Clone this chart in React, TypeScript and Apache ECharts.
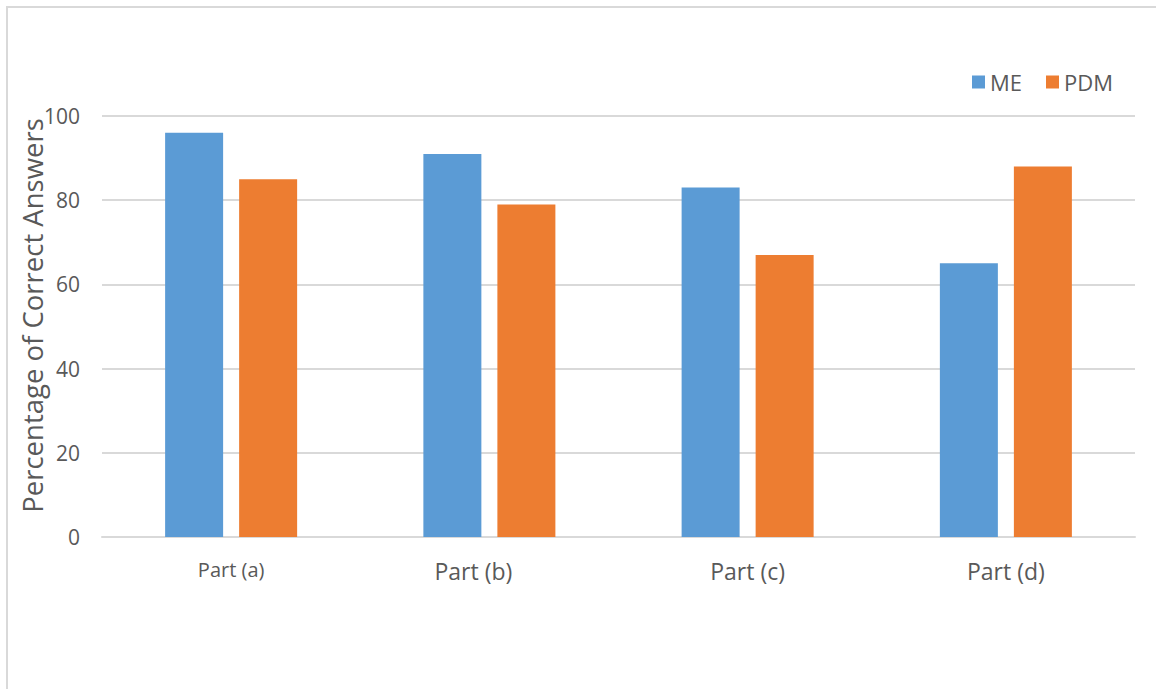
import React, { useEffect, useRef } from "react";
import * as echarts from "echarts";

const categories = ["Part (a)", "Part (b)", "Part (c)", "Part (d)"];
const meValues = [96, 91, 83, 65];
const pdmValues = [85, 79, 67, 88];
const seriesNames = ["ME", "PDM"];
const yTicks = { min: 0, max: 100, interval: 20 };

const FONT = "'Open Sans', 'Noto Sans', sans-serif";
const TEXT = "#595959";
const GRID_LINE = "#d9d9d9";

// per-category label styles (first label is set smaller, second sits a little left)
const labelStyleKeys = ["a", "b", "n", "n"];

export default function App() {
  const ref = useRef<HTMLDivElement>(null);

  useEffect(() => {
    if (!ref.current) return;
    const chart = echarts.init(ref.current, undefined, { renderer: "svg" });
    chart.setOption({
      animation: false,
      backgroundColor: "#ffffff",
      textStyle: { fontFamily: FONT },
      graphic: [
        {
          type: "rect",
          shape: { x: 7, y: 7, width: 1300, height: 900 },
          style: { fill: "none", stroke: GRID_LINE, lineWidth: 2 },
          silent: true,
        },
      ],
      legend: {
        data: seriesNames,
        left: 972,
        top: 71,
        padding: 0,
        itemWidth: 13,
        itemHeight: 13,
        itemGap: 24,
        icon: "rect",
        textStyle: { color: TEXT, fontSize: 22, fontFamily: FONT, padding: [0, 0, 0, 0] },
      },
      grid: {
        left: 102,
        right: 21,
        top: 116,
        bottom: 152,
        containLabel: false,
        outerBoundsMode: "none",
      },
      xAxis: {
        type: "category",
        data: categories,
        axisLine: { show: true, lineStyle: { color: GRID_LINE, width: 2 } },
        axisTick: { show: false },
        axisLabel: {
          color: TEXT,
          fontSize: 23,
          fontFamily: FONT,
          margin: 22,
          formatter: (v: string, i: number) => `{${labelStyleKeys[i]}|${v}}`,
          rich: {
            a: { fontSize: 20, color: TEXT, fontFamily: FONT, padding: [0, 0, 8, 0] },
            b: { fontSize: 23, color: TEXT, fontFamily: FONT, padding: [0, 32, 0, 0] },
            n: { fontSize: 23, color: TEXT, fontFamily: FONT },
          },
        },
      },
      yAxis: {
        type: "value",
        min: yTicks.min,
        max: yTicks.max,
        interval: yTicks.interval,
        name: "Percentage of Correct Answers",
        nameLocation: "middle",
        nameGap: 56,
        nameMoveOverlap: false,
        nameTextStyle: {
          color: TEXT,
          fontSize: 27.5,
          fontFamily: FONT,
          padding: [0, 0, 0, 22],
        },
        axisLine: { show: false },
        axisTick: { show: false },
        axisLabel: { color: TEXT, fontSize: 21, fontFamily: FONT, margin: 22 },
        splitLine: { lineStyle: { color: GRID_LINE, width: 2 } },
      },
      series: [
        {
          name: seriesNames[0],
          type: "bar",
          data: meValues,
          barWidth: 58,
          barGap: "27.6%",
          itemStyle: { color: "#5b9bd5" },
        },
        {
          name: seriesNames[1],
          type: "bar",
          data: pdmValues,
          barWidth: 58,
          barGap: "27.6%",
          itemStyle: { color: "#ed7d31" },
        },
      ],
    });
    return () => chart.dispose();
  }, []);

  return (
    <div
      ref={ref}
      style={{ position: "fixed", left: 0, top: 0, width: 1156, height: 689 }}
    />
  );
}
